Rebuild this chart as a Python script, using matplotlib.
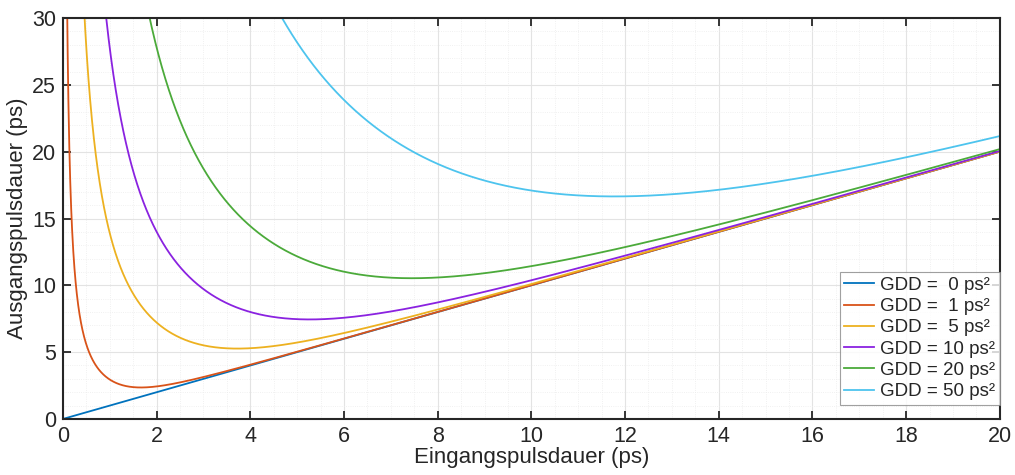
import numpy as np
import matplotlib
matplotlib.use("Agg")
import matplotlib.pyplot as plt
from matplotlib.ticker import MultipleLocator

# Data
gdd_values = [0, 1, 5, 10, 20, 50]          # ps^2
legend_labels = ["GDD =  0 ps²", "GDD =  1 ps²", "GDD =  5 ps²",
                 "GDD = 10 ps²", "GDD = 20 ps²", "GDD = 50 ps²"]
colors = ["#0072BD", "#D95319", "#EDB120", "#8A22E0", "#4BAA3A", "#4DC4EE"]
tau_in = np.linspace(0.001, 20, 4000)       # input pulse duration (ps)

plt.rcParams['font.family'] = ['Liberation Sans', 'DejaVu Sans']

fig = plt.figure(figsize=(10.15, 4.75), dpi=100)
ax = fig.add_axes([0.062, 0.118, 0.923, 0.844])

for gdd, lab, c in zip(gdd_values, legend_labels, colors):
    tau_out = tau_in * np.sqrt(1 + (4 * np.log(2) * gdd / tau_in**2) ** 2)
    ax.plot(tau_in, tau_out, color=c, lw=1.3, label=lab)

ax.set_xlim(0, 20)
ax.set_ylim(0, 30)
ax.xaxis.set_major_locator(MultipleLocator(2))
ax.xaxis.set_minor_locator(MultipleLocator(0.5))
ax.yaxis.set_major_locator(MultipleLocator(5))
ax.yaxis.set_minor_locator(MultipleLocator(1))
ax.grid(which='major', color='#e3e3e3', lw=0.8)
ax.grid(which='minor', color='#ececec', lw=0.6, ls=':')
ax.set_axisbelow(True)
ax.tick_params(which='major', direction='in', length=6, width=1.3, top=True, right=True,
               labelsize=15.5, colors='#262626', pad=5)
ax.tick_params(which='minor', length=0)
for s in ax.spines.values():
    s.set_linewidth(1.5)
    s.set_color('#262626')

ax.set_xlabel("Eingangspulsdauer (ps)", fontsize=16, color='#262626', labelpad=0)
ax.set_ylabel("Ausgangspulsdauer (ps)", fontsize=16, color='#262626', labelpad=3)

leg = ax.legend(loc='lower right', fontsize=13.5, frameon=True, fancybox=False,
                handlelength=1.6, handletextpad=0.3,
                labelspacing=0.22, borderpad=0.25, borderaxespad=0.0,
                bbox_to_anchor=(1.0, 0.035))
leg.get_frame().set_linewidth(0.8)
leg.get_frame().set_edgecolor('#888888')
for t in leg.get_texts():
    t.set_color('#262626')

fig.savefig("out.png", dpi=100)
